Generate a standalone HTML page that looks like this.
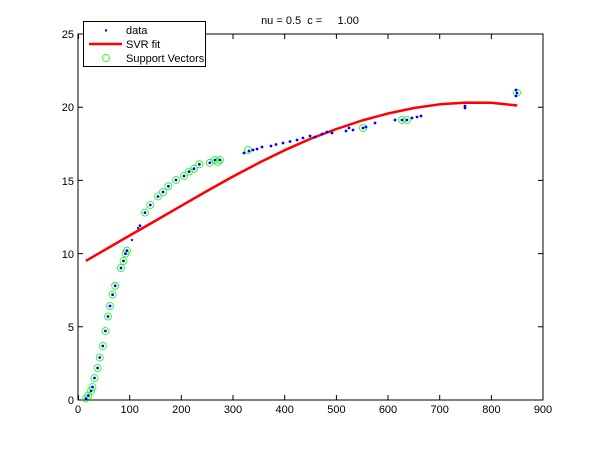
<!DOCTYPE html>
<html><head><style>
body{margin:0;background:#fff;}
svg{display:block;font-family:"Liberation Sans",sans-serif;}
</style></head><body>
<svg width="600" height="450" viewBox="0 0 600 450">
<rect width="600" height="450" fill="#fff"/>
<rect x="78" y="34" width="465" height="366" fill="#fff" stroke="#000" stroke-width="1"/>
<g stroke="#000" stroke-width="1">
<path d="M78.5 400v-5M129.7 400v-5M181.3 400v-5M233 400v-5M284.7 400v-5M336.4 400v-5M388 400v-5M439.7 400v-5M491.4 400v-5M543 400v-5"/>
<path d="M78.5 34v5M129.7 34v5M181.3 34v5M233 34v5M284.7 34v5M336.4 34v5M388 34v5M439.7 34v5M491.4 34v5M543 34v5"/>
<path d="M78 400h5M78 326.8h5M78 253.6h5M78 180.4h5M78 107.2h5M78 34h5"/>
<path d="M543 400h-5M543 326.8h-5M543 253.6h-5M543 180.4h-5M543 107.2h-5M543 34h-5"/>
</g>
<g font-size="11" fill="#000" text-anchor="middle">
<text x="78" y="413">0</text><text x="129.7" y="413">100</text><text x="181.3" y="413">200</text><text x="233" y="413">300</text><text x="284.7" y="413">400</text><text x="336.4" y="413">500</text><text x="388" y="413">600</text><text x="439.7" y="413">700</text><text x="491.4" y="413">800</text><text x="543" y="413">900</text>
</g>
<g font-size="11" fill="#000" text-anchor="end">
<text x="74" y="404">0</text><text x="74" y="331">5</text><text x="74" y="258">10</text><text x="74" y="185">15</text><text x="74" y="111">20</text><text x="74" y="38">25</text>
</g>
<text x="310" y="24" font-size="11" text-anchor="middle" xml:space="preserve">nu = 0.5  c =     1.00</text>
<polyline fill="none" stroke="#f00" stroke-width="2.5" stroke-linejoin="round" points="85.8,260.9 100,252.7 115,244 129.7,235.5 155,221 181.3,205.8 207,191 233,176.5 259,162.8 284.7,150.2 310,139 336.4,129 362,120.5 388,113.5 414,108 439.7,104.3 465.5,102.6 491.4,102.8 517.2,105.5"/>
<g fill="none" stroke="#00ff00" stroke-width="0.8">
<circle cx="86" cy="398.5" r="3.5"/><circle cx="88.3" cy="395.6" r="3.5"/><circle cx="91" cy="391" r="3.5"/><circle cx="92.5" cy="387" r="3.5"/><circle cx="94.5" cy="378" r="3.5"/><circle cx="97.6" cy="368" r="3.5"/><circle cx="99.7" cy="357.5" r="3.5"/><circle cx="102.8" cy="346" r="3.5"/><circle cx="105.4" cy="331" r="3.5"/><circle cx="108" cy="316.5" r="3.5"/><circle cx="110" cy="306" r="3.5"/><circle cx="112.6" cy="294.6" r="3.5"/><circle cx="115.2" cy="285.8" r="3.5"/><circle cx="121" cy="268" r="3.5"/><circle cx="123.5" cy="261" r="3.5"/><circle cx="125.5" cy="253.6" r="3.5"/><circle cx="127" cy="250.7" r="3.5"/>
<circle cx="145" cy="212.6" r="3.5"/><circle cx="150.3" cy="205" r="3.5"/><circle cx="158" cy="196.5" r="3.5"/><circle cx="163" cy="192" r="3.5"/><circle cx="168.4" cy="186.3" r="3.5"/><circle cx="176" cy="180" r="3.5"/><circle cx="184" cy="176" r="3.5"/><circle cx="189" cy="171.6" r="3.5"/><circle cx="194" cy="168.7" r="3.5"/><circle cx="199.4" cy="164.3" r="3.5"/><circle cx="209.8" cy="162.8" r="3.5"/><circle cx="215" cy="160" r="3.5"/><circle cx="220" cy="160" r="3.5"/><circle cx="218" cy="162" r="3.5"/>
<circle cx="248" cy="150" r="3.5"/><circle cx="363" cy="128" r="3.5"/><circle cx="402" cy="120" r="3.5"/><circle cx="407" cy="120" r="3.5"/><circle cx="517" cy="92.6" r="3.5"/>
</g>
<g fill="#00f">
<circle cx="86" cy="398.5" r="1.4"/><circle cx="88.3" cy="395.6" r="1.4"/><circle cx="91" cy="391" r="1.4"/><circle cx="92.5" cy="387" r="1.4"/><circle cx="94.5" cy="378" r="1.4"/><circle cx="97.6" cy="368" r="1.4"/><circle cx="99.7" cy="357.5" r="1.4"/><circle cx="102.8" cy="346" r="1.4"/><circle cx="105.4" cy="331" r="1.4"/><circle cx="108" cy="316.5" r="1.4"/><circle cx="110" cy="306" r="1.4"/><circle cx="112.6" cy="294.6" r="1.4"/><circle cx="115.2" cy="285.8" r="1.4"/><circle cx="121" cy="268" r="1.4"/><circle cx="123.5" cy="261" r="1.4"/><circle cx="125.5" cy="253.6" r="1.4"/><circle cx="127" cy="250.7" r="1.4"/><circle cx="132" cy="240" r="1.1"/><circle cx="138" cy="228" r="1.1"/><circle cx="140" cy="225.8" r="1.4"/>
<circle cx="145" cy="212.6" r="1.4"/><circle cx="150.3" cy="205" r="1.4"/><circle cx="158" cy="196.5" r="1.4"/><circle cx="163" cy="192" r="1.4"/><circle cx="168.4" cy="186.3" r="1.4"/><circle cx="176" cy="180" r="1.4"/><circle cx="184" cy="176" r="1.4"/><circle cx="189" cy="171.6" r="1.4"/><circle cx="194" cy="168.7" r="1.4"/><circle cx="199.4" cy="164.3" r="1.4"/><circle cx="209.8" cy="162.8" r="1.4"/><circle cx="215" cy="160" r="1.4"/><circle cx="220" cy="160" r="1.4"/>
<circle cx="244" cy="153" r="1.4"/><circle cx="249" cy="151" r="1.4"/><circle cx="253" cy="150" r="1.4"/><circle cx="257" cy="149" r="1.4"/><circle cx="262" cy="147" r="1.4"/><circle cx="271" cy="146" r="1.4"/><circle cx="276" cy="144.5" r="1.4"/><circle cx="283" cy="143" r="1.4"/><circle cx="290" cy="141.5" r="1.4"/><circle cx="297" cy="140" r="1.4"/><circle cx="303" cy="138" r="1.4"/><circle cx="310" cy="136" r="1.4"/><circle cx="315" cy="137" r="1.4"/><circle cx="322" cy="134" r="1.4"/><circle cx="327" cy="132" r="1.4"/><circle cx="332" cy="133" r="1.4"/><circle cx="346" cy="131" r="1.4"/><circle cx="349" cy="128" r="1.4"/><circle cx="353" cy="130" r="1.4"/><circle cx="363" cy="128" r="1.4"/><circle cx="366" cy="127" r="1.4"/><circle cx="375" cy="123" r="1.4"/><circle cx="395" cy="120" r="1.4"/><circle cx="402" cy="120" r="1.4"/><circle cx="407" cy="120" r="1.4"/><circle cx="412" cy="118" r="1.4"/><circle cx="417" cy="117" r="1.4"/><circle cx="421" cy="116" r="1.4"/><circle cx="465" cy="106" r="1.4"/><circle cx="465" cy="108" r="1.4"/><circle cx="516" cy="90" r="1.4"/><circle cx="517" cy="93" r="1.4"/><circle cx="516" cy="96" r="1.4"/>
</g>
<rect x="83.5" y="21.5" width="122" height="45" fill="#fff" stroke="#000" stroke-width="1"/>
<circle cx="106" cy="30.5" r="1.2" fill="#00f"/>
<line x1="89" y1="44" x2="122" y2="44" stroke="#f00" stroke-width="2.5"/>
<circle cx="106" cy="58" r="3.5" fill="none" stroke="#00ff00" stroke-width="0.8"/>
<g font-size="11" fill="#000">
<text x="126" y="34">data</text><text x="126" y="48">SVR fit</text><text x="126" y="62">Support Vectors</text>
</g>
</svg>
</body></html>
